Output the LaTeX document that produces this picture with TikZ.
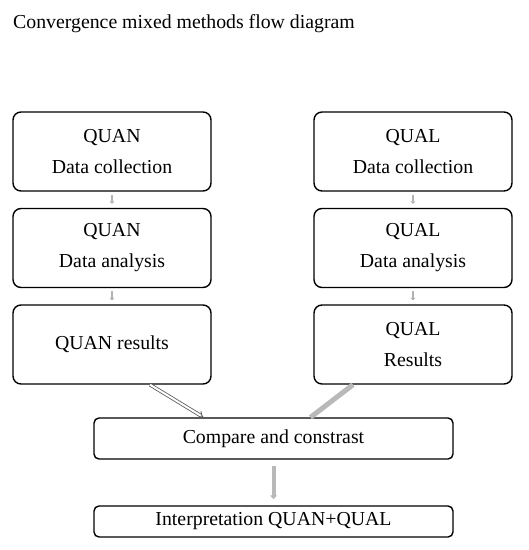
\documentclass[tikz,border=0pt]{standalone}
\usepackage{fontspec}
\setmainfont{Liberation Serif}
\usetikzlibrary{arrows.meta,calc}
\begin{document}
\begin{tikzpicture}[x=1pt,y=-1pt,
	every node/.style={align=center,font=\fontsize{19.8}{31}\selectfont},
	box/.style={draw,line width=1.4pt,rounded corners=8pt,minimum width=198pt,minimum height=79pt,inner sep=0pt},
	wbox/.style={draw,line width=1.4pt,rounded corners=5pt,minimum width=359pt,inner sep=0pt},
	small/.style={draw=gray!60,line width=2.6pt,-{Triangle[width=5pt,length=2.5pt]},shorten <=3pt,shorten >=4pt}]
	\useasboundingbox(0,0)rectangle(529,550);
	\node[anchor=base west,inner sep=0pt](title)at(13,28){Convergence mixed methods flow diagram};
	
	\node[box](quanc)at(112,151.5){QUAN\\Data collection};
	\node[box](quana)at(112,248){QUAN\\Data analysis};
	\node[box](quanr)at(112,344.5){QUAN results};
	\node[box](qualc)at(413,151.5){QUAL\\Data collection};
	\node[box](quala)at(413,248){QUAL\\Data analysis};
	\node[box](qualr)at(413,344.5){QUAL\\Results};
	
	\node[wbox,minimum height=41pt](cmp)at(273.5,438.5){Compare and constrast};
	\node[wbox,minimum height=31pt](interp)at(273.5,521.5){Interpretation QUAN+QUAL};
	
	\foreach \x in{quan,qual}
	{\draw[small](\x c)--(\x a);
		\draw[small](\x a)--(\x r);}
	
	\draw[draw=gray!70!black,double=white,line width=0.8pt,double distance=2pt,-{Implies}]
	([xshift=38pt]quanr.south)--([xshift=-70pt]cmp.north);
	\draw[gray!55,line width=5pt]([xshift=-60pt]qualr.south)--([xshift=37pt]cmp.north);
	\draw[gray!55,line width=4pt,-{Triangle[width=7pt,length=4pt]},shorten <=6pt,shorten >=6pt](cmp)--(interp);
\end{tikzpicture}
\end{document}
